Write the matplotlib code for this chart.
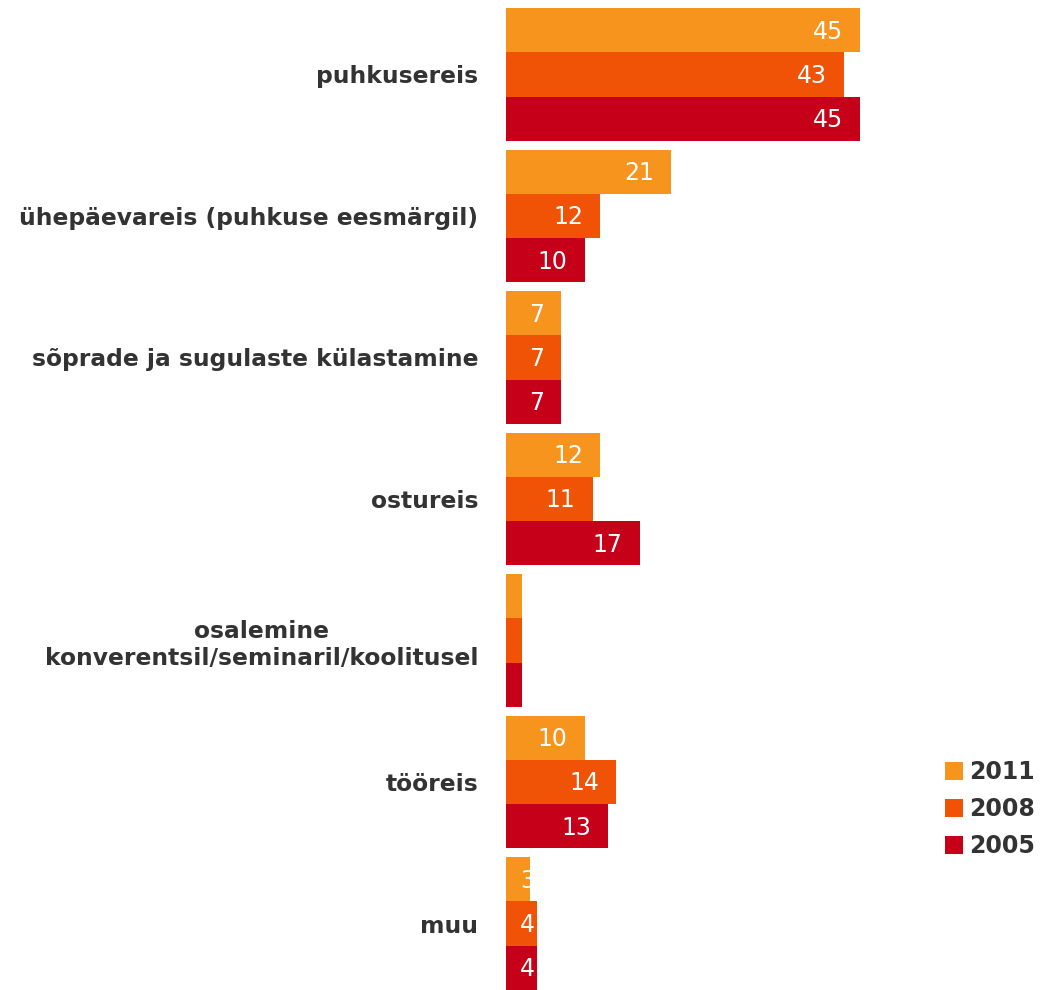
import numpy as np
import matplotlib.pyplot as plt

# andmed
categories = ["puhkusereis", "ühepäevareis (puhkuse eesmärgil)",
              "sõprade ja sugulaste külastamine", "ostureis",
              "osalemine\nkonverentsil/seminaril/koolitusel", "tööreis", "muu"]
years = ["2011", "2008", "2005"]
v2011 = [45, 21, 7, 12, 2, 10, 3]
v2008 = [43, 12, 7, 11, 2, 14, 4]
v2005 = [45, 10, 7, 17, 2, 13, 4]
colors = ["#F7941E", "#F05306", "#C60019"]

plt.rcParams["font.family"] = ["DejaVu Sans"]
fig = plt.figure(figsize=(10.41, 9.9), dpi=100)
ax = fig.add_axes([506 / 1041, 0, 1 - 506 / 1041, 1])

h = 0.313
y = np.arange(len(categories))
for k, (vals, yr, c) in enumerate(zip([v2011, v2008, v2005], years, colors)):
    pos = y + (k - 1) * h
    ax.barh(pos, vals, height=h, color=c, label=yr)
    for p, v in zip(pos, vals):
        if v >= 5:
            ax.text(v - 2.2, p + 0.01, f"{v}", ha="right", va="center",
                    color="white", fontsize=17)
        else:
            ax.text(1.8, p + 0.01, f"{v}", ha="left", va="center",
                    color="white", fontsize=17)

ax.set_xlim(0, 68)
ax.set_ylim(6.4695, -0.526)
ax.set_yticks(y)
ax.set_yticklabels(categories, fontsize=16.8, fontweight="bold", color="#333333",
                   multialignment="center")
ax.tick_params(axis="y", length=0, pad=20)
ax.set_xticks([])
for s in ax.spines.values():
    s.set_visible(False)

leg = fig.legend(loc="upper left", bbox_to_anchor=(0.908, 0.232), frameon=False,
                 handlelength=0.75, handleheight=0.75, borderpad=0,
                 borderaxespad=0, handletextpad=0.25, labelspacing=0.55,
                 prop={"weight": "bold", "size": 17})
for t in leg.get_texts():
    t.set_color("#333333")

fig.savefig("out.png", dpi=100)
